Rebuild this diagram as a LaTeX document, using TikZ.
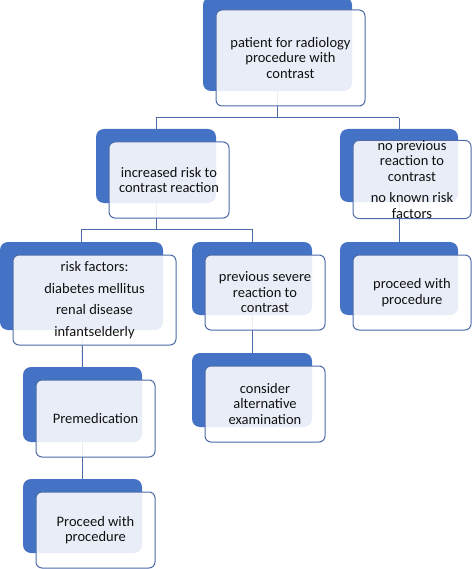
\documentclass[tikz,border=0pt]{standalone}
\usepackage{fontspec}
\setmainfont{Carlito}
\usetikzlibrary{backgrounds}
\definecolor{bblue}{HTML}{4472C4}
\definecolor{bline}{HTML}{4D6BA8}
\definecolor{txt}{HTML}{111111}
\tikzset{
  backbox/.style={fill=bblue, draw=none, rounded corners=8pt, inner sep=0pt, outer sep=0pt, anchor=north west},
  frontbox/.style={draw=bline, line width=1pt, fill=white, fill opacity=0.88, text opacity=1,
    rounded corners=6pt, inner sep=0pt, outer sep=0pt, anchor=center, text=txt,
    align=center, font=\fontsize{14.5}{15.5}\selectfont},
  conn/.style={draw=bline, line width=1pt}
}
\newcommand\smbox[6]{%
  \node[backbox, minimum width=#4pt, minimum height=#5pt] (#1b) at (#2,#3) {};
  \node[frontbox, minimum width=#4pt, minimum height=#5pt+2pt] (#1f)
     at ([xshift=13pt,yshift=-14pt]#1b.center) {#6};
}
\begin{document}
\begin{tikzpicture}[x=1pt,y=-1pt]
\useasboundingbox (0,0) rectangle (474,569);
\smbox{T}{203}{-3}{149}{94}{patient for radiology\\procedure with\\contrast}
\smbox{I}{96}{129}{120}{74}{increased risk to\\contrast reaction}
\smbox{N}{340}{129}{118}{73}{no previous\\reaction to\\contrast\\[6pt]no known risk\\factors}
\smbox{R}{0}{242}{163}{88}{risk factors:\\[6pt]diabetes mellitus\\[6pt]renal disease\\[6pt]infantselderly}
\smbox{P}{192}{242}{120}{73}{previous severe\\reaction to\\contrast}
\smbox{Q2}{340}{242}{118}{73}{proceed with\\procedure}
\smbox{C}{192}{353}{120}{74}{consider\\alternative\\examination}
\smbox{M}{23}{367}{119}{75}{Premedication}
\smbox{Q}{23}{479}{119}{74}{Proceed with\\procedure}
\begin{scope}[on background layer]
  \coordinate (j1) at (Tb.center |- 0,118);
  \coordinate (j2) at (Ib.center |- 0,229);
  \draw[conn] (Tb.center) -- (j1);
  \draw[conn] (j1 -| Ib.center) -- (j1 -| Nb.center);
  \draw[conn] (j1 -| Ib.center) -- (Ib.north);
  \draw[conn] (j1 -| Nb.center) -- (Nb.north);
  \draw[conn] (Ib.center) -- (j2);
  \draw[conn] (j2 -| Rb.center) -- (j2 -| Pb.center);
  \draw[conn] (j2 -| Rb.center) -- (Rb.north);
  \draw[conn] (j2 -| Pb.center) -- (Pb.north);
  \draw[conn] (Nb.center) -- (Q2b.north);
  \draw[conn] (Pb.center) -- (Cb.north);
  \draw[conn] (Rb.center) -- (Mb.north);
  \draw[conn] (Mb.center) -- (Qb.north);
\end{scope}
\end{tikzpicture}
\end{document}
